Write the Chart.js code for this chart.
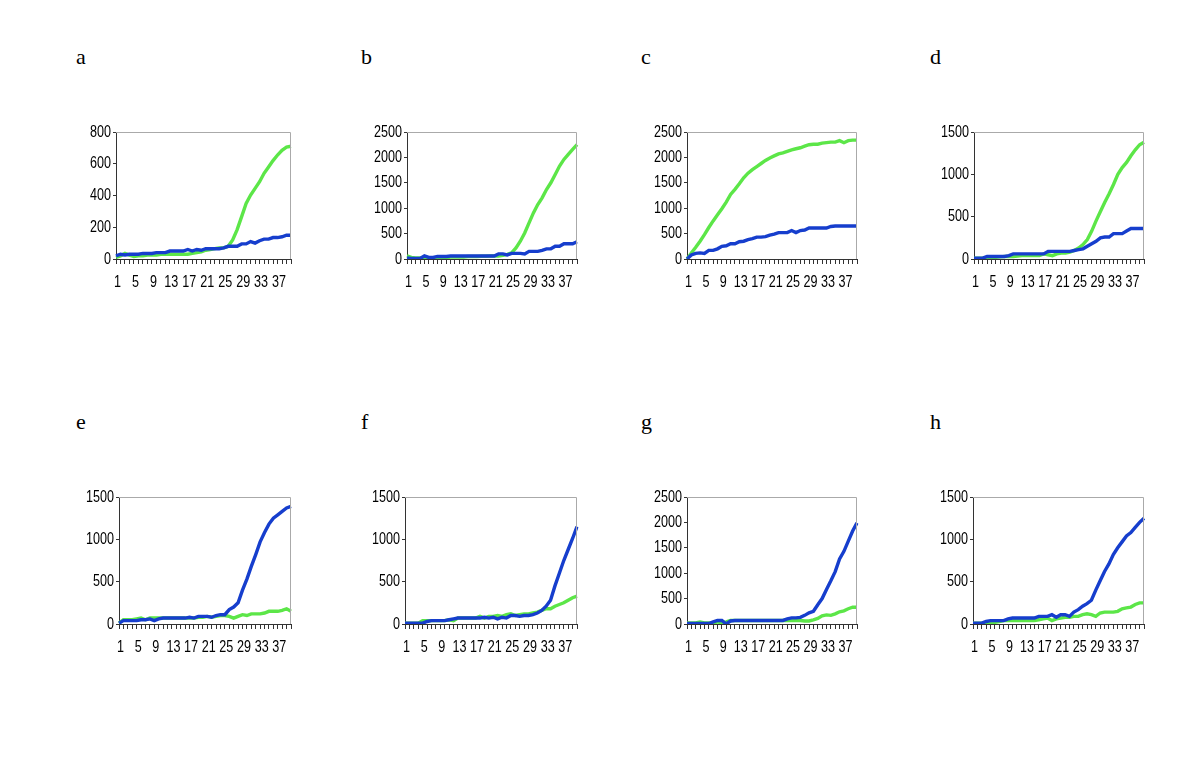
<!DOCTYPE html>
<html>
<head>
<meta charset="utf-8">
<script src="https://cdn.jsdelivr.net/npm/chart.js@4.4.1/dist/chart.umd.min.js"></script>
<style>
  body { margin: 0; background: #fff; width: 1196px; height: 781px; position: relative; overflow: hidden; }
  .panel { position: absolute; }
  .letter { position: absolute; font-family: 'Liberation Serif', 'DejaVu Serif', serif; font-size: 22px; color: #000; }
</style>
</head>
<body>
<script>
// categories 1..40
const days = ['1','2','3','4','5','6','7','8','9','10','11','12','13','14','15','16','17','18','19','20',
              '21','22','23','24','25','26','27','28','29','30','31','32','33','34','35','36','37','38','39','40'];

const panelNames = ['a', 'b', 'c', 'd', 'e', 'f', 'g', 'h'];
const yMax = [800, 2500, 2500, 1500, 1500, 1500, 2500, 1500];
const yStep = [200, 500, 500, 500, 500, 500, 500, 500];

// blue series
const blueA = [20,30,25,30,30,30,35,35,35,40,40,40,50,50,50,50,60,50,60,55,65,65,65,65,70,80,80,80,95,95,110,100,115,125,125,135,135,140,150,150];
const blueB = [20,10,10,10,60,30,30,50,50,50,60,60,60,60,60,60,60,60,60,60,60,100,100,80,110,110,110,100,150,150,150,170,200,200,250,250,300,300,300,340];
const blueC = [0,80,110,120,110,170,170,200,250,260,300,300,340,350,380,400,430,430,440,470,490,520,520,520,560,520,560,570,610,610,610,610,610,640,650,650,650,650,650,650];
const blueD = [10,10,10,30,30,30,30,30,40,60,60,60,60,60,60,60,60,90,90,90,90,90,90,100,110,120,150,180,210,250,260,260,300,300,300,330,360,360,360,360];
const blueE = [10,40,40,40,40,50,50,60,40,60,70,70,70,70,70,70,80,70,90,90,90,80,100,110,110,170,200,250,400,530,680,820,970,1080,1180,1250,1290,1330,1370,1390];
const blueF = [10,10,10,10,10,30,40,40,40,40,50,60,70,70,70,70,70,70,80,70,80,60,80,70,100,100,90,100,100,110,130,160,210,280,450,600,750,880,1010,1150];
const blueG = [10,10,10,10,10,10,40,70,70,0,60,70,70,70,70,70,70,70,70,70,70,70,70,100,120,120,130,170,220,250,380,500,680,850,1030,1280,1430,1630,1830,1990];
const blueH = [10,10,10,30,40,40,40,40,60,70,70,70,70,70,70,90,90,90,110,80,110,110,90,140,170,210,240,280,400,510,620,710,820,900,970,1040,1080,1140,1200,1250];

// green series
const greenA = [10,20,35,25,15,20,20,25,25,25,30,30,30,30,30,30,30,35,40,45,55,60,65,70,70,80,120,185,267,350,403,445,487,540,580,620,655,685,705,710];
const greenB = [60,30,20,20,20,20,20,20,20,20,40,40,40,40,50,50,50,55,55,60,60,60,70,90,120,217,350,513,710,908,1073,1204,1368,1500,1665,1830,1960,2060,2158,2250];
const greenC = [0,120,230,350,480,620,750,870,990,1120,1270,1370,1480,1600,1690,1760,1820,1880,1940,1990,2030,2070,2090,2120,2150,2170,2190,2220,2250,2260,2260,2280,2290,2300,2300,2330,2290,2330,2340,2340];
const greenD = [10,10,10,15,20,20,25,30,30,30,35,40,40,40,40,40,60,50,40,60,70,70,80,100,130,170,230,330,450,560,670,770,880,1000,1080,1140,1220,1290,1350,1380];
const greenE = [10,50,50,50,60,70,50,70,70,70,70,70,70,70,70,70,70,70,80,80,90,80,90,100,100,90,70,90,110,100,120,120,120,130,150,150,150,160,180,150];
const greenF = [10,10,10,10,40,40,40,40,40,40,50,40,70,70,70,70,70,90,70,90,90,100,90,110,120,100,110,120,120,130,140,160,180,180,210,230,250,280,310,330];
const greenG = [20,20,20,40,20,20,20,40,20,40,70,70,70,70,70,70,70,70,70,70,70,70,70,70,70,70,70,60,60,80,110,160,180,170,200,240,260,300,330,330];
const greenH = [10,10,10,10,10,20,30,40,40,40,40,40,40,40,40,50,60,70,40,60,70,80,80,90,90,110,120,110,90,130,140,140,140,150,180,190,200,230,250,250];

const blueSeries = [blueA, blueB, blueC, blueD, blueE, blueF, blueG, blueH];
const greenSeries = [greenA, greenB, greenC, greenD, greenE, greenF, greenG, greenH];

// plot area boxes [left, top, right, bottom] in page pixels
const plotBoxes = [
  [116, 132, 291, 259], [407, 132, 577, 259], [687, 132, 857, 259], [974, 132, 1144, 259],
  [119, 497, 291, 624], [405, 497, 577, 624], [687, 497, 857, 624], [973, 497, 1144, 624]
];
const letterPos = [[76, 44], [361, 44], [641, 44], [930, 44], [76, 409], [361, 409], [641, 409], [930, 409]];

const BLUE = 'rgb(22, 62, 205)';
const GREEN = 'rgb(92, 230, 72)';
const LABEL_FONT = "17px 'Liberation Sans', Arial, sans-serif";
const SQUEEZE = 0.74;

const YW = 50, XH = 40, PT = 12, PR = 6;

// gray frame on top/right of the plot area
const frame = {
  id: 'frame',
  afterDraw(chart) {
    const a = chart.chartArea, c = chart.ctx;
    c.save();
    c.strokeStyle = '#aaa';
    c.lineWidth = 1;
    c.beginPath();
    c.moveTo(a.left, a.top + 0.5);
    c.lineTo(a.right - 0.5, a.top + 0.5);
    c.lineTo(a.right - 0.5, a.bottom);
    c.stroke();
    c.restore();
  }
};

// tick labels in a condensed face, placed from the scales' own tick positions
function squeezedText(c, text, x, y, align) {
  c.save();
  c.translate(x, y);
  c.scale(SQUEEZE, 1);
  c.textAlign = align;
  c.fillText(text, 0, 0);
  c.restore();
}
const narrowLabels = {
  id: 'narrowLabels',
  afterDraw(chart) {
    const c = chart.ctx;
    const xs = chart.scales.x, ys = chart.scales.y;
    c.save();
    c.font = LABEL_FONT;
    c.fillStyle = '#000';
    c.textBaseline = 'middle';
    xs.ticks.forEach((t, idx) => {
      if (idx % 4 !== 0) return;
      squeezedText(c, days[idx], xs.getPixelForTick(idx) + 1.5, xs.top + 23, 'center');
    });
    ys.ticks.forEach((t, idx) => {
      squeezedText(c, String(t.value), ys.right - 5, ys.getPixelForTick(idx), 'right');
    });
    c.restore();
  }
};

panelNames.forEach((name, i) => {
  const [l, t, r, b] = plotBoxes[i];
  const div = document.createElement('div');
  div.className = 'panel';
  div.style.left = (l - YW) + 'px';
  div.style.top = (t - PT) + 'px';
  div.style.width = (r - l + YW + PR) + 'px';
  div.style.height = (b - t + PT + XH) + 'px';
  const cv = document.createElement('canvas');
  div.appendChild(cv);
  document.body.appendChild(div);

  const lab = document.createElement('div');
  lab.className = 'letter';
  lab.style.left = letterPos[i][0] + 'px';
  lab.style.top = letterPos[i][1] + 'px';
  lab.textContent = name;
  document.body.appendChild(lab);

  new Chart(cv, {
    type: 'line',
    data: {
      labels: days,
      datasets: [
        { data: blueSeries[i], borderColor: BLUE, borderWidth: 3.4, pointRadius: 0, tension: 0 },
        { data: greenSeries[i], borderColor: GREEN, borderWidth: 3.4, pointRadius: 0, tension: 0 }
      ]
    },
    options: {
      responsive: true,
      maintainAspectRatio: false,
      animation: false,
      layout: { padding: { top: PT, right: PR, left: 0, bottom: 0 } },
      plugins: { legend: { display: false }, tooltip: { enabled: false } },
      scales: {
        x: {
          offset: false,
          grid: { drawOnChartArea: false, drawTicks: true, tickLength: 5, color: '#333' },
          border: { color: '#333', width: 1 },
          ticks: { display: false, autoSkip: false, maxRotation: 0 },
          afterFit: (s) => { s.height = XH; }
        },
        y: {
          min: 0, max: yMax[i],
          grid: { drawOnChartArea: false, drawTicks: true, tickLength: 3, color: '#333' },
          border: { color: '#333', width: 1 },
          ticks: { display: false, stepSize: yStep[i] },
          afterFit: (s) => { s.width = YW; }
        }
      }
    },
    plugins: [frame, narrowLabels]
  });
});
</script>
</body>
</html>
